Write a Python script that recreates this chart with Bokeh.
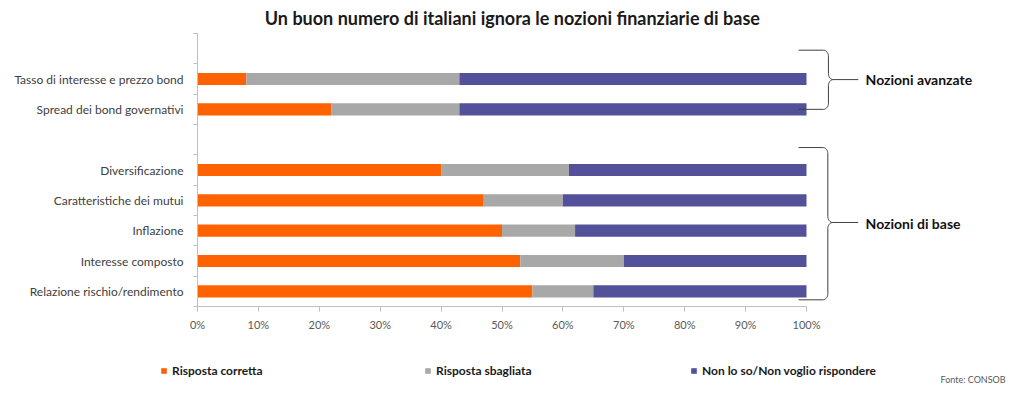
import numpy as np
from bokeh.plotting import figure
from bokeh.models import FixedTicker, Range1d, Label, Legend, LegendItem, ColumnDataSource
from bokeh.embed import file_html
from bokeh.resources import INLINE

# ---------------- data ----------------
title = "Un buon numero di italiani ignora le nozioni finanziarie di base"
advanced = ["Tasso di interesse e prezzo bond", "Spread dei bond governativi"]
basic = ["Diversificazione", "Caratteristiche dei mutui", "Inflazione",
         "Interesse composto", "Relazione rischio/rendimento"]
correct_adv = [8, 22]
wrong_adv = [35, 21]
correct_basic = [40, 47, 50, 53, 55]
wrong_basic = [21, 13, 12, 17, 10]
series_names = ["Risposta corretta", "Risposta sbagliata", "Non lo so/Non voglio rispondere"]
group_labels = ["Nozioni avanzate", "Nozioni di base"]
x_ticks = list(range(0, 101, 10))
source_note = "Fonte: CONSOB"

colors = ["#FF6200", "#A8A8A8", "#525199"]
FONT = "Lato"

# ---------------- layout of rows ----------------
nb = len(basic)
pos_basic = [nb - 1 - i for i in range(nb)]
pos_adv = [nb + 1 + len(advanced) - 1 - i for i in range(len(advanced))]
cats = advanced + basic
ypos = pos_adv + pos_basic
correct = np.array(correct_adv + correct_basic, dtype=float)
wrong = np.array(wrong_adv + wrong_basic, dtype=float)
dk = 100.0 - correct - wrong
n_slots = nb + 1 + len(advanced) + 1

src = ColumnDataSource(dict(
    y=ypos, cat=cats,
    c0=np.zeros(len(cats)), c1=correct, c2=correct + wrong, c3=correct + wrong + dk,
))

W, H = 1016, 393
# pixel geometry of the plotting area (axes drawn at fixed locations)
left_px, px_per_pct = 197.0, 6.09
bottom_px, px_per_row = 306.0, 273.0 / n_slots
x0 = -left_px / px_per_pct
x1 = (W - left_px) / px_per_pct
y_top = -0.5 + bottom_px / px_per_row
y_bot = -0.5 + (bottom_px - H) / px_per_row

p = figure(width=W, height=H, x_range=Range1d(x0, x1), y_range=Range1d(y_bot, y_top),
           toolbar_location=None, output_backend="svg",
           min_border=0, min_border_left=0, min_border_right=0,
           min_border_top=0, min_border_bottom=0)
p.outline_line_color = None
p.xgrid.visible = False
p.ygrid.visible = False
p.background_fill_color = "white"
p.border_fill_color = "white"

bar_h = 0.4
r1 = p.hbar(y="y", left="c0", right="c1", height=bar_h, source=src,
            fill_color=colors[0], line_color=None)
r2 = p.hbar(y="y", left="c1", right="c2", height=bar_h, source=src,
            fill_color=colors[1], line_color=None)
r3 = p.hbar(y="y", left="c2", right="c3", height=bar_h, source=src,
            fill_color=colors[2], line_color=None)

# x axis
xa = p.xaxis[0]
xa.fixed_location = -0.5
xa.ticker = FixedTicker(ticks=x_ticks)
xa.bounds = (0, 100)
xa.major_label_overrides = {t: f"{t}%" for t in x_ticks}
xa.axis_line_color = "#BFBFBF"
xa.major_tick_line_color = "#BFBFBF"
xa.minor_tick_line_color = None
xa.major_tick_out = 5
xa.major_tick_in = 0
xa.major_label_standoff = 6
xa.major_label_text_font = FONT
xa.major_label_text_font_size = "11px"
xa.major_label_text_color = "#595959"

# y axis
ya = p.yaxis[0]
ya.fixed_location = 0
ya.bounds = (-0.5, n_slots - 0.5)
ya.ticker = FixedTicker(ticks=ypos, minor_ticks=[-0.5 + i for i in range(n_slots + 1)])
ya.major_label_overrides = {y: c for y, c in zip(ypos, cats)}
ya.axis_line_color = "#BFBFBF"
ya.major_tick_line_color = None
ya.major_tick_out = 0
ya.major_tick_in = 0
ya.minor_tick_line_color = "#BFBFBF"
ya.minor_tick_out = 4
ya.minor_tick_in = 0
ya.major_label_standoff = 10
ya.major_label_text_font = FONT
ya.major_label_text_font_size = "12px"
ya.major_label_text_color = "#404040"


# braces
def brace(x0, xv, xt, ytop, ymid, ybot, rx=0.8, ry=0.2):
    t = np.linspace(0, np.pi / 2, 14)
    xs = [x0]; ys = [ytop]
    xs += list(xv - rx + rx * np.sin(t)); ys += list(ytop - ry + ry * np.cos(t))
    xs += list(xv + rx - rx * np.cos(t)); ys += list(ymid + ry - ry * np.sin(t))
    xs += list(xv + rx - rx * np.sin(t)); ys += list(ymid - ry + ry * np.cos(t))
    xs += list(xv - rx + rx * np.cos(t)); ys += list(ybot + ry - ry * np.sin(t))
    xs += [x0]; ys += [ybot]
    return xs, ys, [xv + rx, xt], [ymid, ymid]


brace_color = "#404040"
for (bx0, xv, xt, yt, ym, yb) in [(98.7, 103.6, 108.5, 7.95, 6.98, 6.0),
                                  (98.7, 103.5, 108.5, 4.74, 2.27, -0.28)]:
    bx, by, tx, ty = brace(bx0, xv, xt, yt, ym, yb)
    p.line(bx, by, line_color=brace_color, line_width=1)
    p.line(tx, ty, line_color=brace_color, line_width=1)

p.add_layout(Label(x=109.7, y=7.0, text=group_labels[0], text_font=FONT,
                   text_font_size="14px", text_font_style="bold",
                   text_color="#111111", text_baseline="middle"))
p.add_layout(Label(x=109.7, y=2.22, text=group_labels[1], text_font=FONT,
                   text_font_size="14px", text_font_style="bold",
                   text_color="#111111", text_baseline="middle"))

# title
p.add_layout(Label(x=51.7, y=9.0, text=title, text_font=FONT, text_font_size="18px",
                   text_font_style="bold", text_color="#1a1a1a",
                   text_align="center", text_baseline="middle"))

# source
p.add_layout(Label(x=122.0, y=-2.9, text=source_note, text_font=FONT,
                   text_font_size="9px", text_color="#595959", text_baseline="middle"))

# legends
for r, name, lx in zip([r1, r2, r3], series_names, [160, 424, 690]):
    leg = Legend(items=[LegendItem(label=name, renderers=[r])], location=(lx, 15),
                 glyph_width=7, glyph_height=7, label_standoff=5, padding=0, margin=0,
                 border_line_color=None, background_fill_alpha=0,
                 label_text_font=FONT, label_text_font_size="12px",
                 label_text_color="#1a1a1a", label_text_font_style="bold")
    p.add_layout(leg)

open("out.html", "w").write(file_html(p, INLINE))
